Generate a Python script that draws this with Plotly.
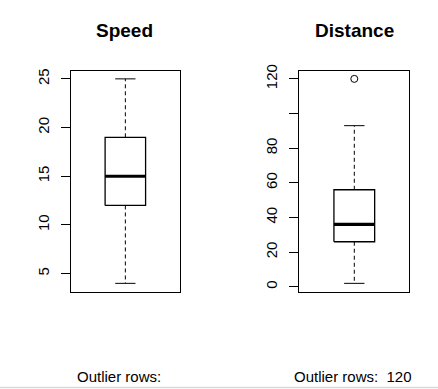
import plotly.graph_objects as go

W, H = 438, 389

# Data (R cars dataset summary)
panels = ["Speed", "Distance"]
lower_whisker = [4, 2]
q1 = [12, 26]
median = [15, 36]
q3 = [19, 56]
upper_whisker = [25, 93]
outliers = [[], [120]]
y_ranges = [[3.16, 25.84], [-2.72, 124.72]]
tick_vals = [[5, 10, 15, 20, 25], [0, 20, 40, 60, 80, 100, 120]]
tick_text = [["5", "10", "15", "20", "25"], ["0", "20", "40", "60", "80", "", "120"]]
outlier_labels = ["Outlier rows: ", "Outlier rows:  120"]

# Layout in pixels
frames_x = [(70.7, 180.0), (299.3, 409.3)]
frame_top, frame_bot = 65.7, 290.0

fig = go.Figure()
font = "Liberation Sans, Arial, sans-serif"
line_col = "black"
for i in range(2):
    xa = "x" if i == 0 else "x2"
    ya = "y" if i == 0 else "y2"
    x0, x1 = frames_x[i]
    axkey = "xaxis" if i == 0 else "xaxis2"
    aykey = "yaxis" if i == 0 else "yaxis2"
    fig.layout[axkey] = dict(domain=[x0 / W, x1 / W], range=[0.46, 1.54], showticklabels=False,
                            showgrid=False, zeroline=False, showline=True, mirror=True,
                            linecolor="black", linewidth=1, ticks="", anchor=ya, fixedrange=True)
    fig.layout[aykey] = dict(domain=[1 - frame_bot / H, 1 - frame_top / H], range=y_ranges[i],
                            tickvals=tick_vals[i], ticktext=tick_text[i], tickangle=-90,
                            ticks="outside", ticklen=9, tickcolor="black", showgrid=False,
                            zeroline=False, showline=True, mirror=True, linecolor="black",
                            linewidth=1, anchor=xa, tickfont=dict(family=font, size=15, color="black"),
                            ticklabelstandoff=6, fixedrange=True)
    # whiskers (dashed)
    fig.add_trace(go.Scatter(x=[1, 1, None, 1, 1], y=[q3[i], upper_whisker[i], None, q1[i], lower_whisker[i]],
                             mode="lines", line=dict(color=line_col, width=1, dash="4px,3px"),
                             xaxis=xa, yaxis=ya, showlegend=False, hoverinfo="skip"))
    # caps
    fig.add_trace(go.Scatter(x=[0.9, 1.1, None, 0.9, 1.1],
                             y=[upper_whisker[i], upper_whisker[i], None, lower_whisker[i], lower_whisker[i]],
                             mode="lines", line=dict(color=line_col, width=1),
                             xaxis=xa, yaxis=ya, showlegend=False, hoverinfo="skip"))
    # box
    fig.add_trace(go.Scatter(x=[0.8, 1.2, 1.2, 0.8, 0.8], y=[q1[i], q1[i], q3[i], q3[i], q1[i]],
                             mode="lines", line=dict(color=line_col, width=1.3),
                             xaxis=xa, yaxis=ya, showlegend=False, hoverinfo="skip"))
    # median
    fig.add_trace(go.Scatter(x=[0.8, 1.2], y=[median[i], median[i]], mode="lines",
                             line=dict(color=line_col, width=3.2),
                             xaxis=xa, yaxis=ya, showlegend=False, hoverinfo="skip"))
    if outliers[i]:
        fig.add_trace(go.Scatter(x=[1] * len(outliers[i]), y=outliers[i], mode="markers",
                                 marker=dict(symbol="circle-open", size=7, color=line_col, line=dict(width=1)),
                                 xaxis=xa, yaxis=ya, showlegend=False, hoverinfo="skip"))
    cx = (x0 + x1) / 2
    fig.add_annotation(x=cx / W + (-0.003 if i == 0 else 0.0), y=1 - 25 / H, xref="paper", yref="paper",
                       text="<b>%s</b>" % panels[i], showarrow=False,
                       font=dict(family=font, size=19, color="black"), xanchor="center", yanchor="middle")
    fig.add_annotation(x=(121 if i == 0 else 353) / W, y=1 - 376 / H, xref="paper", yref="paper",
                       text=outlier_labels[i], showarrow=False,
                       font=dict(family=font, size=15, color="black"), xanchor="center", yanchor="middle")

fig.add_shape(type="line", xref="paper", yref="paper", x0=0, x1=1, y0=1 - 387.5 / H, y1=1 - 387.5 / H,
              line=dict(color="#d9d9d9", width=1.5))

fig.update_layout(width=W, height=H, margin=dict(l=0, r=0, t=0, b=0),
                  paper_bgcolor="white", plot_bgcolor="white")
fig.write_html("out.html", config={"displayModeBar": False},
               post_script="document.body.style.margin='0';document.body.style.padding='0';"
                           "document.body.style.overflow='hidden';")
